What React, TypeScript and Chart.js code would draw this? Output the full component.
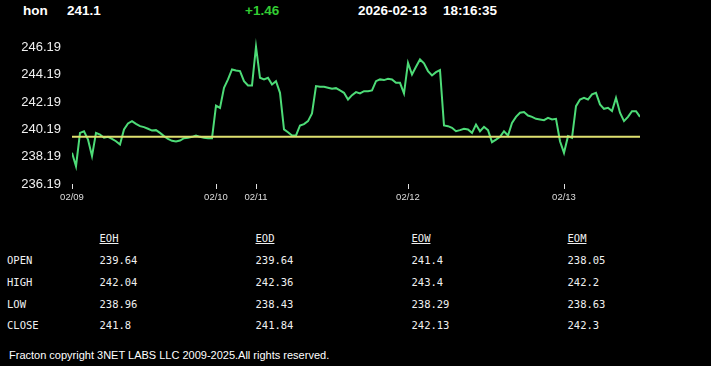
import React, { useEffect, useRef } from 'react';
import { Chart, registerables } from 'chart.js';

Chart.register(...registerables);

// ---- header ----
const SYMBOL = 'hon';
const LAST = '241.1';
const CHANGE = '+1.46';
const DATE = '2026-02-13';
const TIME = '18:16:35';
const FOOTER = 'Fracton copyright 3NET LABS LLC 2009-2025.All rights reserved.';

// ---- chart data (one array per trading day) ----
const dayLabels = ['02/09', '02/10', '02/11', '02/12', '02/13'];
const day0209 = [
  238.47, 237.49, 239.93, 240.05, 239.44, 238.23, 239.93, 239.81, 239.57, 239.64,
  239.49, 239.32, 239.08, 240.18, 240.62, 240.79, 240.59, 240.42, 240.35, 240.23,
  240.10, 240.13, 239.93, 239.69, 239.49, 239.35, 239.30, 239.37, 239.54, 239.57,
  239.64, 239.74, 239.64, 239.57, 239.54, 239.54,
];
const day0210 = [241.93, 241.76, 243.23, 243.84, 244.57, 244.49, 244.45, 243.71, 243.40, 243.40];
const day0211 = [
  246.23, 243.96, 243.84, 243.96, 243.47, 243.71, 242.86, 240.18, 239.98, 239.74,
  239.74, 240.47, 240.57, 240.79, 241.35, 243.35, 243.30, 243.30, 243.23, 243.15,
  243.20, 243.03, 242.86, 242.37, 242.69, 242.91, 242.81, 242.98, 242.98, 243.03,
  243.71, 243.84, 243.79, 243.88, 243.84, 243.59, 243.59, 242.81,
];
const day0212 = [
  245.05, 244.20, 244.76, 245.30, 245.01, 244.45, 244.13, 244.37, 244.52, 240.47,
  240.42, 240.30, 240.05, 240.13, 240.23, 240.18, 239.93, 240.54, 240.05, 240.37,
  240.13, 239.25, 239.44, 239.64, 240.05, 239.74, 240.66, 241.10, 241.40, 241.45,
  241.20, 241.10, 240.96, 240.91, 240.86, 241.03, 240.91, 240.96, 239.32,
];
const day0213 = [
  238.47, 239.69, 239.57, 241.88, 242.37, 242.49, 242.37, 242.74, 242.86, 242.01,
  241.69, 241.76, 241.52, 242.49, 241.40, 240.79, 241.10, 241.52, 241.52, 241.10,
];
const prevClose = 239.64;
const yTicks = [236.19, 238.19, 240.19, 242.19, 244.19, 246.19];
const yMin = 236.19;
const yMax = 247.0;

// ---- table ----
const tableCols = ['EOH', 'EOD', 'EOW', 'EOM'];
const rowLabels = ['OPEN', 'HIGH', 'LOW', 'CLOSE'];
const eohVals = ['239.64', '242.04', '238.96', '241.8'];
const eodVals = ['239.64', '242.36', '238.43', '241.84'];
const eowVals = ['241.4', '243.4', '238.29', '242.13'];
const eomVals = ['238.05', '242.2', '238.63', '242.3'];
const tableVals = [eohVals, eodVals, eowVals, eomVals];

const SANS = 'Arial, "Liberation Sans", sans-serif';
const MONO = '"DejaVu Sans Mono", "Liberation Mono", monospace';

export default function App() {
  const ref = useRef<HTMLCanvasElement | null>(null);

  useEffect(() => {
    document.body.style.margin = '0';
    document.body.style.background = '#000';
    const days = [day0209, day0210, day0211, day0212, day0213];
    const points: { x: number; y: number }[] = [];
    const dayStarts: number[] = [];
    days.forEach((d) => {
      dayStarts.push(points.length);
      d.forEach((v) => points.push({ x: points.length, y: v }));
    });
    const lastX = points.length - 1;

    const chart = new Chart(ref.current as HTMLCanvasElement, {
      type: 'line',
      data: {
        datasets: [
          {
            data: [
              { x: 0, y: prevClose },
              { x: lastX, y: prevClose },
            ],
            borderColor: '#dfe070',
            borderWidth: 2,
            pointRadius: 0,
          },
          {
            data: points,
            borderColor: '#4ddb77',
            borderWidth: 2,
            pointRadius: 0,
            tension: 0,
          },
        ],
      },
      options: {
        animation: false,
        responsive: false,
        devicePixelRatio: 1,
        layout: { padding: { top: 6.2, left: 0, right: 71, bottom: 0 } },
        plugins: { legend: { display: false }, tooltip: { enabled: false } },
        scales: {
          x: {
            type: 'linear',
            min: 0,
            max: lastX,
            afterBuildTicks: (s: any) => {
              s.ticks = dayStarts.map((v) => ({ value: v }));
            },
            afterFit: (s: any) => {
              s.height = 26;
              s.paddingLeft = 0;
              s.paddingRight = 0;
            },
            grid: { drawOnChartArea: false, drawTicks: true, tickLength: 5, color: '#e0e0e0', lineWidth: 1 },
            border: { display: false },
            ticks: {
              color: '#dddddd',
              font: { family: SANS, size: 9.5 },
              padding: 3,
              maxRotation: 0,
              autoSkip: false,
              callback: (v: any) => {
                const i = dayStarts.indexOf(Number(v));
                return i >= 0 ? dayLabels[i] : '';
              },
            },
          },
          y: {
            min: yMin,
            max: yMax,
            afterBuildTicks: (s: any) => {
              s.ticks = yTicks.map((v) => ({ value: v }));
            },
            afterFit: (s: any) => {
              s.width = 72;
              s.paddingTop = 0;
              s.paddingBottom = 0;
            },
            grid: { display: false, drawTicks: false },
            border: { display: false },
            ticks: {
              color: '#f0f0f0',
              font: { family: SANS, size: 13 },
              padding: 11,
              callback: (v: any) => Number(v).toFixed(2),
            },
          },
        },
      },
    });
    return () => chart.destroy();
  }, []);

  const abs = (left: number, top: number, extra: React.CSSProperties = {}): React.CSSProperties => ({
    position: 'absolute',
    left,
    top,
    whiteSpace: 'pre',
    ...extra,
  });

  const hdr: React.CSSProperties = { fontFamily: SANS, fontWeight: 'bold', fontSize: 13.5, lineHeight: '13.5px', color: '#ffffff' };
  const mono: React.CSSProperties = { fontFamily: MONO, fontSize: 10.5, lineHeight: '10.5px', color: '#f0f0f0' };
  const colX = [99.5, 255.5, 411.5, 567.5];
  const rowTop = [255.1, 276.9, 298.7, 320.4];

  return (
    <div style={{ position: 'fixed', left: 0, top: 0, width: 711, height: 366, background: '#000', overflow: 'hidden' }}>
      <div style={abs(23, 3.6, hdr)}>{SYMBOL}</div>
      <div style={abs(67, 3.6, hdr)}>{LAST}</div>
      <div style={abs(245, 3.6, { ...hdr, color: '#33cc33' })}>{CHANGE}</div>
      <div style={abs(358, 3.6, hdr)}>{DATE}</div>
      <div style={abs(443, 3.6, hdr)}>{TIME}</div>

      <canvas ref={ref} width={711} height={180} style={{ position: 'absolute', left: 0, top: 30, display: 'block' }} />

      {tableCols.map((c, i) => (
        <div key={c} style={abs(colX[i], 232.8, { ...mono, textDecoration: 'underline' })}>{c}</div>
      ))}
      {rowLabels.map((r, j) => (
        <div key={r} style={abs(7, rowTop[j], mono)}>{r}</div>
      ))}
      {tableVals.map((col, i) =>
        col.map((v, j) => (
          <div key={i + '-' + j} style={abs(colX[i], rowTop[j], mono)}>{v}</div>
        ))
      )}

      <div style={abs(9, 350, { fontFamily: SANS, fontSize: 11, lineHeight: '11px', color: '#ffffff' })}>{FOOTER}</div>
    </div>
  );
}
